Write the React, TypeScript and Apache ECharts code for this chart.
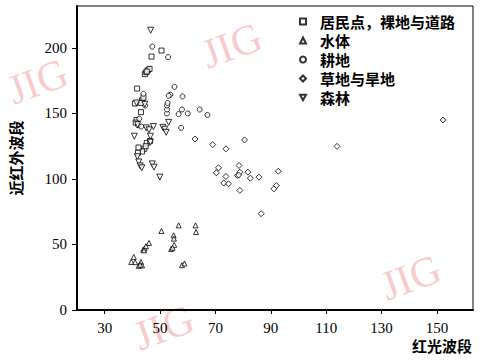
import React, { useEffect, useRef } from "react";
import * as echarts from "echarts";

const seriesNames = ["居民点，裸地与道路", "水体", "耕地", "草地与旱地", "森林"];
const xTickValues = [30, 50, 70, 90, 110, 130, 150];
const yTickValues = [0, 50, 100, 150, 200];

const residentialPts = [
  [50.5, 198], [46.9, 193.4], [44.5, 180], [45, 181.5], [45.6, 183], [46.2, 184], [45.2, 182],
  [41.7, 169], [43.5, 160], [44, 162], [43.2, 158], [40.9, 157.6], [43.1, 151], [41.5, 145],
  [41.2, 143], [45.2, 127.5], [44.3, 123], [43.5, 121], [42.2, 124], [42, 120], [46.4, 129], [44.8, 125],
];
const waterPts = [
  [39.6, 36.7], [40.5, 40.5], [41, 36.5], [42.3, 33.7], [43.1, 36.7], [43.5, 34], [42.8, 34.5],
  [43.9, 46], [44.4, 47], [44.9, 48.7], [44.2, 45.5], [46, 51.2], [50.5, 60.3], [54.9, 57],
  [55, 54.5], [55.1, 49.7], [54, 46.6], [54.5, 47.5], [56.7, 64.6], [57.9, 34.2], [58.8, 35.5],
  [62.8, 64.6], [63, 59.5],
];
const farmPts = [
  [47.2, 201], [52.9, 193], [55.2, 170.3], [53.7, 164.3], [53.1, 163.5], [58.1, 163], [52.5, 150],
  [52.5, 153], [52.5, 156], [52.7, 158], [56.7, 149.5], [57.9, 153], [60, 150], [64.3, 153],
  [67.1, 148.8], [57.6, 139], [44, 165], [44.6, 156], [42, 141], [42.5, 146], [43.2, 140],
];
const grassPts = [
  [62.6, 130.5], [69, 126.2], [73.8, 123], [80.5, 129.8], [70.3, 104.7], [71.1, 108.5], [73, 96.9],
  [73.8, 101.9], [74.7, 96.3], [77.9, 102.7], [78.5, 110.3], [78.8, 105.2], [78.4, 103], [78.8, 91.3],
  [81.7, 105.2], [82.6, 100.6], [85.7, 101.4], [86.5, 73.5], [91.1, 92.5], [92, 95], [92.7, 105.9],
  [113.9, 124.9], [152.2, 145],
];
const forestPts = [
  [46.6, 213.5], [40.7, 132.6], [45, 139], [46, 137.5], [47.6, 140], [46.5, 132.6], [47.2, 111.5],
  [47.8, 109], [49.9, 101.4], [51, 139.4], [51.7, 138], [53.1, 143.2], [52.2, 135.6], [46.5, 128],
  [41.8, 117], [42.3, 113], [42.8, 110], [43.4, 108.5], [41.9, 141.5], [44.5, 157], [41.5, 158],
];

const allData = [residentialPts, waterPts, farmPts, grassPts, forestPts];
const symbols = ["rect", "triangle", "circle", "diamond", "path://M0,0 L10,0 L5,9 Z"];
const sizes = [5, 5, 5, 6, 6];

export default function App() {
  const ref = useRef<HTMLDivElement>(null);
  useEffect(() => {
    if (!ref.current) return;
    const chart = echarts.init(ref.current, null, { renderer: "svg" });
    const numFont = "Liberation Serif";
    const wm = { fontSize: 42, fontFamily: "Liberation Serif", fill: "rgba(240,140,140,0.45)" };
    chart.setOption({
      animation: false,
      backgroundColor: "#ffffff",
      grid: {
        left: 69, right: 7, top: 6, bottom: 50, show: true,
        borderColor: "#000", borderWidth: 1,
      },
      xAxis: {
        type: "value", min: 20, max: 163,
        axisLine: { show: true, lineStyle: { color: "#000", width: 2 } },
        axisTick: { show: true, length: 4, lineStyle: { color: "#000" }, customValues: xTickValues },
        axisLabel: {
          customValues: xTickValues, color: "#000", fontFamily: numFont, fontSize: 15, margin: 10,
        },
        splitLine: { show: false },
      },
      yAxis: {
        type: "value", min: 0, max: 232,
        name: "近红外波段", nameLocation: "middle", nameGap: 54, nameRotate: 90,
        nameTextStyle: { color: "#000", fontSize: 15, fontFamily: "Noto Sans CJK SC", fontWeight: "bold" },
        axisLine: { show: true, lineStyle: { color: "#000", width: 2 } },
        axisTick: { show: true, length: 5, lineStyle: { color: "#000" }, customValues: yTickValues },
        axisLabel: {
          customValues: yTickValues, color: "#000", fontFamily: numFont, fontSize: 15, margin: 10,
        },
        splitLine: { show: false },
      },
      legend: {
        orient: "vertical", left: 299, top: 14, padding: 0,
        itemWidth: 6, itemHeight: 6, itemGap: 4,
        data: seriesNames,
        textStyle: {
          color: "#000", fontSize: 15, lineHeight: 15, fontFamily: "Noto Sans CJK SC", fontWeight: "bold",
          padding: [0, 0, 0, 9],
        },
      },
      graphic: [
        {
          type: "text", left: 412, top: 338,
          style: { text: "红光波段", fontSize: 15, fontFamily: "Noto Sans CJK SC", fontWeight: "bold", fill: "#000" },
        },
        { type: "text", x: 375, y: 268, rotation: 0.35, style: { text: "JIG", ...wm }, z: -1 },
        { type: "text", x: 128, y: 318, rotation: 0.35, style: { text: "JIG", ...wm }, z: -1 },
        { type: "text", x: 2, y: 72, rotation: 0.35, style: { text: "JIG", ...wm }, z: -1 },
        { type: "text", x: 196, y: 36, rotation: 0.35, style: { text: "JIG", ...wm }, z: -1 },
      ],
      series: seriesNames.map((name, i) => ({
        name,
        type: "scatter",
        data: allData[i],
        symbol: symbols[i],
        symbolSize: sizes[i],
        itemStyle: { color: "#fff", borderColor: "#000", borderWidth: 1 },
      })),
    });
    return () => chart.dispose();
  }, []);
  return (
    <div
      ref={ref}
      style={{ position: "fixed", left: 0, top: 0, width: 480, height: 360 }}
    />
  );
}
